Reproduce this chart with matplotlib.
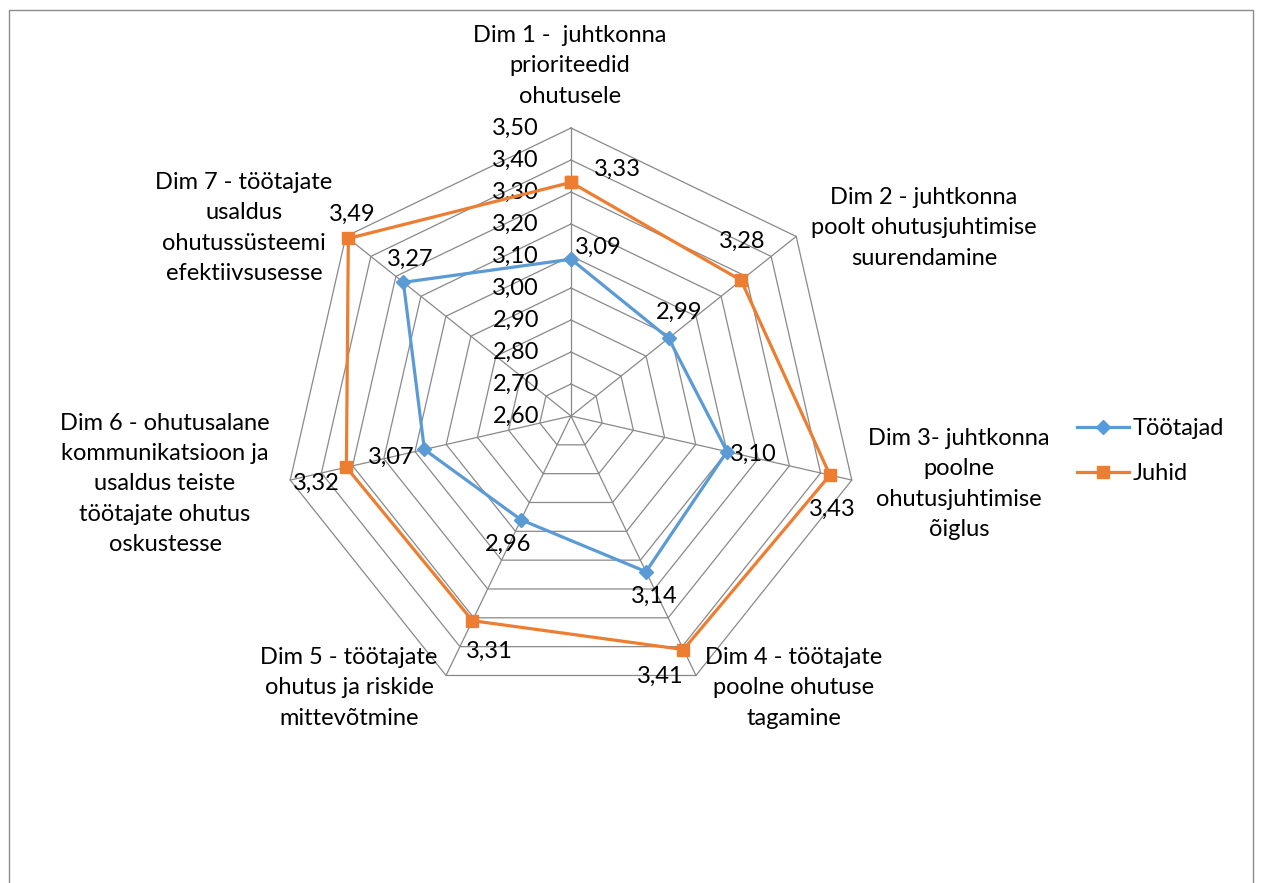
import numpy as np
import matplotlib.pyplot as plt
from matplotlib.patches import Rectangle

plt.rcParams['font.family'] = ['Lato', 'DejaVu Sans']

categories = [
    "Dim 1 -  juhtkonna\nprioriteedid\nohutusele",
    "Dim 2 - juhtkonna\npoolt ohutusjuhtimise\nsuurendamine",
    "Dim 3- juhtkonna\npoolne\nohutusjuhtimise\nõiglus",
    "Dim 4 - töötajate\npoolne ohutuse\ntagamine",
    "Dim 5 - töötajate\nohutus ja riskide\nmittevõtmine",
    "Dim 6 - ohutusalane\nkommunikatsioon ja\nusaldus teiste\ntöötajate ohutus\noskustesse",
    "Dim 7 - töötajate\nusaldus\nohutussüsteemi\nefektiivsusesse",
]
tootajad = [3.09, 2.99, 3.10, 3.14, 2.96, 3.07, 3.27]
juhid = [3.33, 3.28, 3.43, 3.41, 3.31, 3.32, 3.49]
ticks = [2.60, 2.70, 2.80, 2.90, 3.00, 3.10, 3.20, 3.30, 3.40, 3.50]
rmin, rmax = 2.60, 3.50

BLUE = "#5B9BD5"
ORANGE = "#ED7D31"
GRID = "#898989"
FS = 17
LS = 1.55

W, H = 1261, 883
CX, CY, R = 571, 416, 288   # centre and outer radius in pixels


def px(x, y):
    # pixel position -> axes data units
    return (x - CX) / R, (CY - y) / R


n = len(categories)
ang = np.pi / 2 - np.arange(n) * 2 * np.pi / n


def xy(vals):
    r = (np.asarray(vals) - rmin) / (rmax - rmin)
    return r * np.cos(ang), r * np.sin(ang)


fig = plt.figure(figsize=(W / 100, H / 100), dpi=100)
ax = fig.add_axes([0, 0, 1, 1])
ax.set_xlim(-CX / R, (W - CX) / R)
ax.set_ylim(-(H - CY) / R, CY / R)
ax.axis("off")

# outer frame (open at the bottom)
fig.patches.append(Rectangle((9 / W, -0.1), (1253 - 9) / W, 1.1 - 10 / H,
                             transform=fig.transFigure, fill=False,
                             edgecolor="#8c8c8c", lw=1.0))

# grid heptagons and spokes
for t in ticks[1:]:
    gx, gy = xy([t] * n)
    ax.plot(np.append(gx, gx[0]), np.append(gy, gy[0]), color=GRID, lw=0.9, zorder=1)
ox, oy = xy([rmax] * n)
for i in range(n):
    ax.plot([0, ox[i]], [0, oy[i]], color=GRID, lw=0.9, zorder=1)

# tick labels
for t in ticks:
    _, ty = px(0, CY - (t - rmin) / (rmax - rmin) * R)
    ax.text(px(539, 0)[0], ty, f"{t:.2f}".replace(".", ","), ha="right",
            va="center", fontsize=FS)

# series
bx, by = xy(tootajad)
ax.plot(np.append(bx, bx[0]), np.append(by, by[0]), color=BLUE, lw=2.3,
        marker="D", ms=7, zorder=3, label="Töötajad")
jx, jy = xy(juhid)
ax.plot(np.append(jx, jx[0]), np.append(jy, jy[0]), color=ORANGE, lw=2.3,
        marker="s", ms=9, zorder=3, label="Juhid")

# data labels (offsets in pixels)
blue_off = [(27, -12), (11, -26), (26, 3), (8, 25), (-13, 25), (-33, 8), (7, -23)]
orange_off = [(46, -13), (1, -39), (2, 34), (-23, 27), (17, 31), (-30, 16), (4, -24)]
for x0, y0, v, (dx, dy) in zip(bx, by, tootajad, blue_off):
    ax.annotate(f"{v:.2f}".replace(".", ","), (x0, y0), xytext=(dx * 0.72, -dy * 0.72),
                textcoords="offset points", ha="center", va="center", fontsize=FS)
for x0, y0, v, (dx, dy) in zip(jx, jy, juhid, orange_off):
    ax.annotate(f"{v:.2f}".replace(".", ","), (x0, y0), xytext=(dx * 0.72, -dy * 0.72),
                textcoords="offset points", ha="center", va="center", fontsize=FS)

# category labels
cat_pos = [(570, 66), (924, 228), (959, 484), (794, 688), (349, 688), (165, 484), (244, 228)]
for lab, (x0, y0) in zip(categories, cat_pos):
    ax.text(*px(x0, y0), lab, ha="center", va="center", fontsize=FS,
            multialignment="center", linespacing=LS)

ax.legend(loc="center left", bbox_to_anchor=(1056 / W, 1 - 451 / H),
          bbox_transform=fig.transFigure, frameon=False, fontsize=FS,
          handlelength=2.2, labelspacing=1.0, handletextpad=0.15)

fig.savefig("out.png", dpi=100)
